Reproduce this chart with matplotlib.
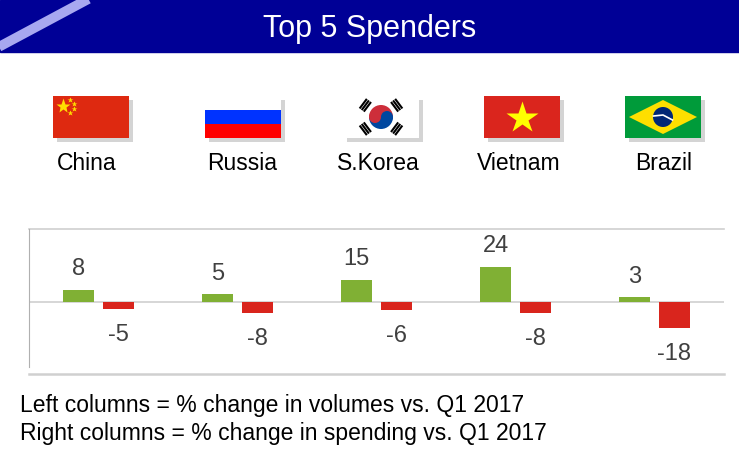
import matplotlib
matplotlib.use("Agg")
import matplotlib.pyplot as plt
import matplotlib.patches as mpatches
import numpy as np

plt.rcParams['font.family'] = ['Liberation Sans', 'DejaVu Sans']

# data
countries = ["China", "Russia", "S.Korea", "Vietnam", "Brazil"]
volume_change = [8, 5, 15, 24, 3]
spending_change = [-5, -8, -6, -8, -18]
title = "Top 5 Spenders"
notes = ["Left columns = % change in volumes vs. Q1 2017",
         "Right columns = % change in spending vs. Q1 2017"]

W, H = 739, 462
fig = plt.figure(figsize=(W / 100, H / 100), dpi=100)

# background layer in pixel coordinates (y down)
bg = fig.add_axes([0, 0, 1, 1])
bg.set_xlim(0, W)
bg.set_ylim(H, 0)
bg.axis("off")

# header band
bg.add_patch(mpatches.Rectangle((0, 0), W, 52, color="#000096", zorder=1))
bg.plot([-5, 94], [49, -4], color="#a8a8f0", lw=7, solid_capstyle="butt", zorder=2)
bg.text(W / 2, 37, title, color="white", fontsize=22, ha="center", va="baseline", zorder=3)


def flag_box(x0, y0, w=76, h=42):
    bg.add_patch(mpatches.Rectangle((x0 + 4, y0 + 4), w, h, color="#aaaaaa", alpha=0.5, lw=0, zorder=1))
    return x0, y0, w, h


def china(x0, y0):
    x0, y0, w, h = flag_box(x0, y0)
    bg.add_patch(mpatches.Rectangle((x0, y0), w, h, color="#de2910", lw=0, zorder=2))
    bg.plot([x0 + 10], [y0 + 10], marker="*", ms=11, color="#ffde00", mec="none", zorder=3)
    for dx, dy in [(17, 4), (21, 8), (21, 13), (17, 17)]:
        bg.plot([x0 + dx], [y0 + dy], marker="*", ms=4, color="#ffde00", mec="none", zorder=3)


def russia(x0, y0):
    x0, y0, w, h = flag_box(x0, y0)
    for i, c in enumerate(["white", "#0033ff", "#ff0000"]):
        bg.add_patch(mpatches.Rectangle((x0, y0 + i * h / 3), w, h / 3, color=c, lw=0, zorder=2))


def korea(x0, y0):
    x0, y0, w, h = flag_box(x0, y0)
    bg.add_patch(mpatches.Rectangle((x0, y0), w, h, color="white", lw=0, zorder=2))
    cx, cy, r = x0 + w / 2, y0 + h / 2, 12
    bg.add_patch(mpatches.Wedge((cx, cy), r, 180, 360, color="#cd2e3a", lw=0, zorder=3))
    bg.add_patch(mpatches.Wedge((cx, cy), r, 0, 180, color="#0047a0", lw=0, zorder=3))
    bg.add_patch(mpatches.Circle((cx - r / 2, cy), r / 2, color="#cd2e3a", lw=0, zorder=4))
    bg.add_patch(mpatches.Circle((cx + r / 2, cy), r / 2, color="#0047a0", lw=0, zorder=4))
    for sx, sy in [(-1, -1), (1, -1), (-1, 1), (1, 1)]:
        ux, uy = sx * 0.8, sy * 0.6
        px, py = -uy, ux
        for k in range(3):
            d = 17 + k * 2.6
            mx, my = cx + ux * d, cy + uy * d
            bg.plot([mx - px * 6, mx + px * 6], [my - py * 6, my + py * 6],
                    color="black", lw=1.5, solid_capstyle="butt", zorder=3)


def vietnam(x0, y0):
    x0, y0, w, h = flag_box(x0, y0)
    bg.add_patch(mpatches.Rectangle((x0, y0), w, h, color="#da251d", lw=0, zorder=2))
    bg.plot([x0 + w / 2], [y0 + h / 2 + 1], marker="*", ms=24, color="#ffff00", mec="none", zorder=3)


def brazil(x0, y0):
    x0, y0, w, h = flag_box(x0, y0)
    bg.add_patch(mpatches.Rectangle((x0, y0), w, h, color="#009b3a", lw=0, zorder=2))
    cx, cy = x0 + w / 2, y0 + h / 2
    bg.add_patch(mpatches.Polygon([(x0 + 4, cy), (cx, y0 + 4), (x0 + w - 4, cy), (cx, y0 + h - 4)],
                                  color="#fedf00", lw=0, zorder=3))
    bg.add_patch(mpatches.Circle((cx, cy), 10, color="#002776", lw=0, zorder=4))
    bg.plot([cx - 9.5, cx, cx + 9.5], [cy - 1, cy - 2, cy + 3], color="white", lw=1.2, zorder=5)


flag_x = [53, 205, 343, 484, 625]
for fn, fx in zip([china, russia, korea, vietnam, brazil], flag_x):
    fn(fx, 96)

name_x = [87, 242, 378, 519, 664]
for nm, nx in zip(countries, name_x):
    bg.text(nx, 170, nm, fontsize=16.5, ha="center", va="baseline", color="black")

for i, line in enumerate(notes):
    bg.text(20, 412 + i * 28, line, fontsize=16.5, ha="left", va="baseline", color="black")

# bar chart
ax = fig.add_axes([29 / W, (H - 374) / H, (724 - 29) / W, (374 - 229) / H])
ax.patch.set_alpha(0)
x = np.arange(len(countries))
bw = 0.22
gap = 0.065
g_bars = ax.bar(x - (bw + gap) / 2, volume_change, bw, color="#80b034", zorder=3)
r_bars = ax.bar(x + (bw + gap) / 2, spending_change, bw, color="#d9251d", zorder=3)
ax.set_xlim(-0.5, len(countries) - 0.5)
ax.set_ylim(-50, 50)
ax.axhline(0, color="#d0d0d0", lw=1.2, zorder=2)
ax.axhline(50, color="#d0d0d0", lw=1.2, zorder=2, clip_on=False)
ax.axhline(-50, color="#d0d0d0", lw=1.8, zorder=2, clip_on=False)
for s in ["top", "right", "bottom"]:
    ax.spines[s].set_visible(False)
ax.spines["left"].set_color("#b0b0b0")
ax.spines["left"].set_bounds(-45, 50)
ax.set_xticks([])
ax.set_yticks([])

for b, v in zip(g_bars, volume_change):
    ax.annotate(str(v), (b.get_x() + b.get_width() / 2, v), xytext=(0, 10.5),
                textcoords="offset points", ha="center", va="baseline", fontsize=17, color="#404040")
for b, v in zip(r_bars, spending_change):
    ax.annotate(str(v), (b.get_x() + b.get_width() / 2, v), xytext=(0, -11),
                textcoords="offset points", ha="center", va="top", fontsize=17, color="#404040")

fig.savefig("out.png", dpi=100)
